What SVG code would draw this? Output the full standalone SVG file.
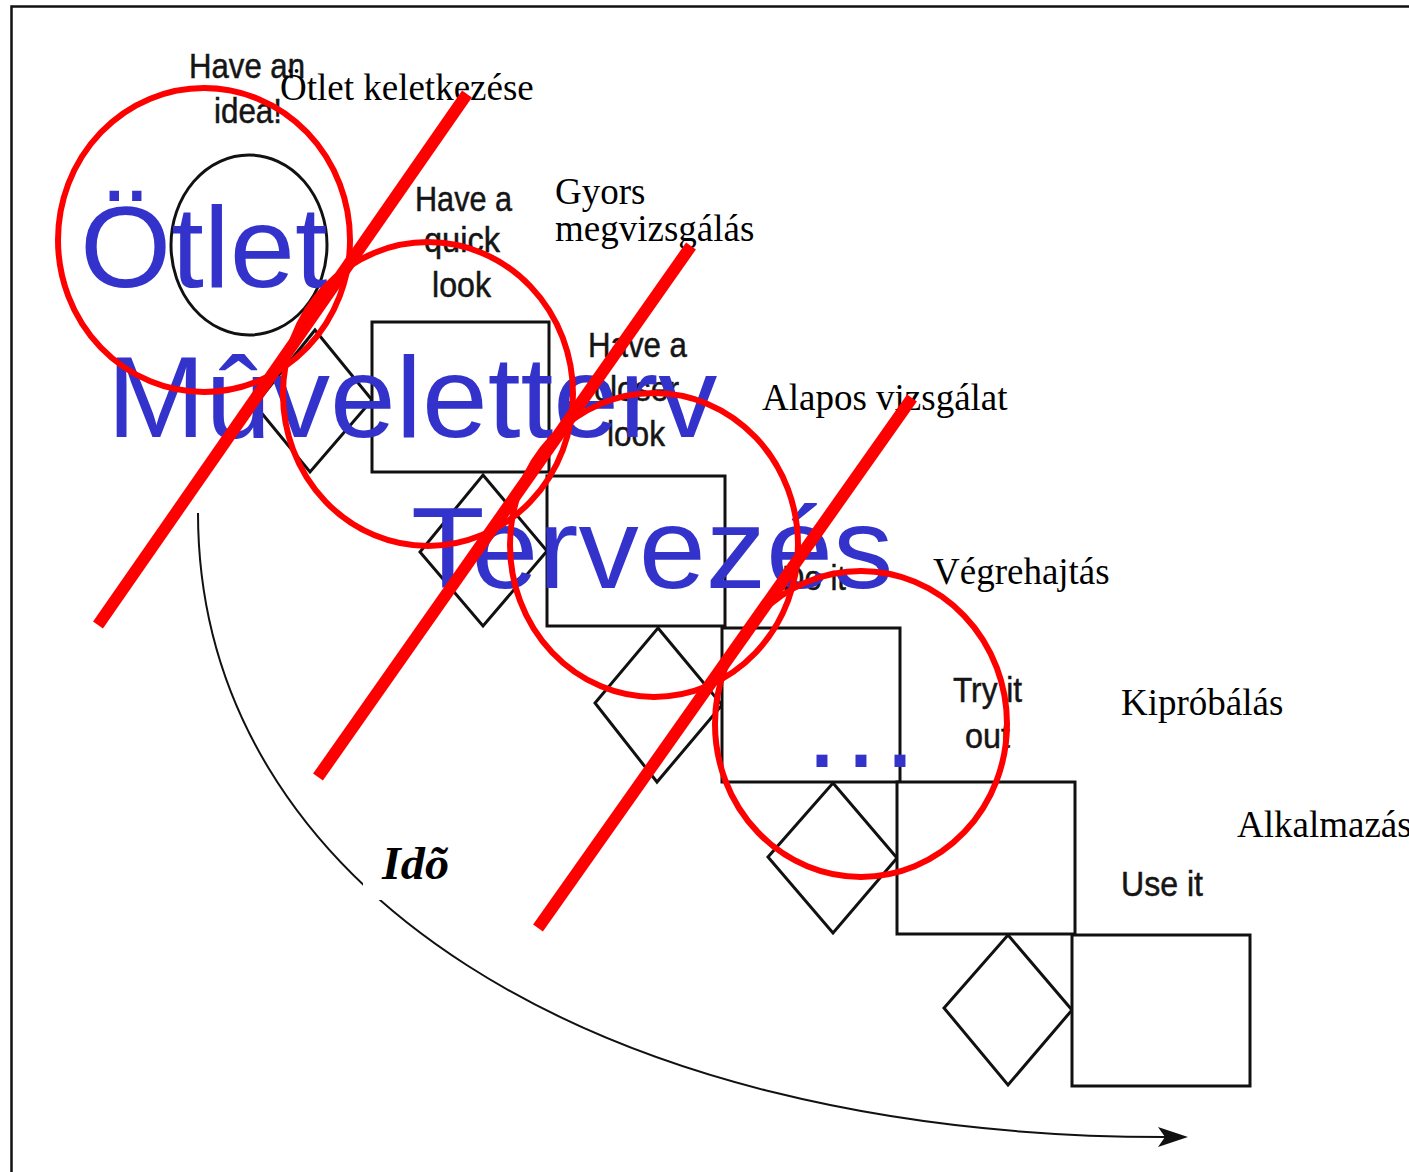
<svg xmlns="http://www.w3.org/2000/svg" width="1409" height="1172" viewBox="0 0 1409 1172">
<style>
.bk{fill:#fff;stroke:#111;stroke-width:3}
.lbl{font-family:"Liberation Sans",Arial,sans-serif;font-size:35px;fill:#151515;stroke:#151515;stroke-width:0.5}
.hu{font-family:"Liberation Serif","Times New Roman",serif;font-size:37px;fill:#000}
.big{font-family:"Liberation Sans",Arial,sans-serif;font-size:115px;fill:#3333CC}
.rc{fill:none;stroke:#FF0000;stroke-width:6}
.rl{fill:none;stroke:#FF0000;stroke-width:12;stroke-linecap:butt}
</style>
<defs>
<marker id="ah" markerWidth="30" markerHeight="22" refX="7" refY="11" orient="auto" markerUnits="userSpaceOnUse">
<path d="M30,11 L0,1 L7,11 L0,21 Z" fill="#111"/>
</marker>
</defs>
<rect width="1409" height="1172" fill="#fff"/>
<path id="frame" d="M11.5,1172 V6.5 H1409" fill="none" stroke="#111" stroke-width="2.5"/>

<g id="idea">
<ellipse class="bk" cx="249" cy="245" rx="78" ry="90"/>
<text class="lbl" x="189" y="78" textLength="116" lengthAdjust="spacingAndGlyphs">Have an</text>
<text class="lbl" x="214" y="123" textLength="68" lengthAdjust="spacingAndGlyphs">idea!</text>
</g>
<g id="diamond1"><path class="bk" d="M315,330 L372,400 L310,472 L255,405 Z"/></g>
<g id="quicklook">
<rect class="bk" x="372" y="322" width="177" height="150"/>
<text class="lbl" x="415" y="211" textLength="97" lengthAdjust="spacingAndGlyphs">Have a</text>
<text class="lbl" x="424" y="252" textLength="76" lengthAdjust="spacingAndGlyphs">quick</text>
<text class="lbl" x="432" y="297" textLength="59" lengthAdjust="spacingAndGlyphs">look</text>
</g>
<g id="diamond2"><path class="bk" d="M483,475 L547,551 L483,626 L420,552 Z"/></g>
<g id="closerlook">
<rect class="bk" x="547" y="476" width="178" height="150"/>
<text class="lbl" x="588" y="357" textLength="99" lengthAdjust="spacingAndGlyphs">Have a</text>
<text class="lbl" x="594" y="401" textLength="85" lengthAdjust="spacingAndGlyphs">closer</text>
<text class="lbl" x="607" y="446" textLength="58" lengthAdjust="spacingAndGlyphs">look</text>
</g>
<g id="diamond3"><path class="bk" d="M658,628 L722,705 L657,782 L595,703 Z"/></g>
<g id="doit">
<rect class="bk" x="722" y="628" width="178" height="154"/>
<text class="lbl" x="782" y="590" textLength="64" lengthAdjust="spacingAndGlyphs">Do it</text>
</g>
<g id="diamond4"><path class="bk" d="M833,783 L897,858 L833,933 L768,857 Z"/></g>
<g id="tryitout">
<rect class="bk" x="897" y="782" width="178" height="152"/>
<text class="lbl" x="953" y="702" textLength="69" lengthAdjust="spacingAndGlyphs">Try it</text>
<text class="lbl" x="965" y="748" textLength="45" lengthAdjust="spacingAndGlyphs">out</text>
</g>
<g id="diamond5"><path class="bk" d="M1008,935 L1072,1010 L1008,1085 L944,1008 Z"/></g>
<g id="useit">
<rect class="bk" x="1072" y="935" width="178" height="151"/>
<text class="lbl" x="1121" y="896" textLength="82" lengthAdjust="spacingAndGlyphs">Use it</text>
</g>

<g id="connectors">
<path d="M198,513 C198,887 593,1137 1165,1137" fill="none" stroke="#111" stroke-width="2" marker-end="url(#ah)"/>
</g>
<g id="ido">
<rect x="363" y="838" width="115" height="62" fill="#fff"/>
<text x="382" y="879" font-family="Liberation Serif,'Times New Roman',serif" font-size="46" font-weight="bold" font-style="italic" fill="#000" textLength="67" lengthAdjust="spacingAndGlyphs">Idõ</text>
</g>

<g id="hungarian-labels">
<text class="hu" x="280" y="100">Ötlet keletkezése</text>
<text class="hu" x="555" y="204">Gyors</text>
<text class="hu" x="555" y="241">megvizsgálás</text>
<text class="hu" x="762" y="410">Alapos vizsgálat</text>
<text class="hu" x="933" y="584">Végrehajtás</text>
<text class="hu" x="1121" y="715">Kipróbálás</text>
<text class="hu" x="1237" y="837">Alkalmazás</text>
</g>

<g id="blue-labels">
<text class="big" transform="translate(80,287) scale(1.02,1)">Ötlet</text>
<text class="big" transform="translate(107,437) scale(1.027,1)">Mûveletterv</text>
<text class="big" transform="translate(411,588) scale(1.048,1)">Tervezés</text>
<text class="big" x="806" y="767" letter-spacing="7">...</text>
</g>

<g id="red-marks">
<ellipse class="rc" cx="204" cy="240" rx="146" ry="152"/>
<ellipse class="rc" cx="428" cy="394" rx="145" ry="152"/>
<ellipse class="rc" cx="654" cy="545" rx="144" ry="152"/>
<ellipse class="rc" cx="861" cy="724" rx="146" ry="153"/>
<line class="rl" x1="98" y1="625" x2="467" y2="94"/>
<line class="rl" x1="318" y1="777" x2="691" y2="246"/>
<line class="rl" x1="538" y1="928" x2="912" y2="398"/>
</g>
</svg>
